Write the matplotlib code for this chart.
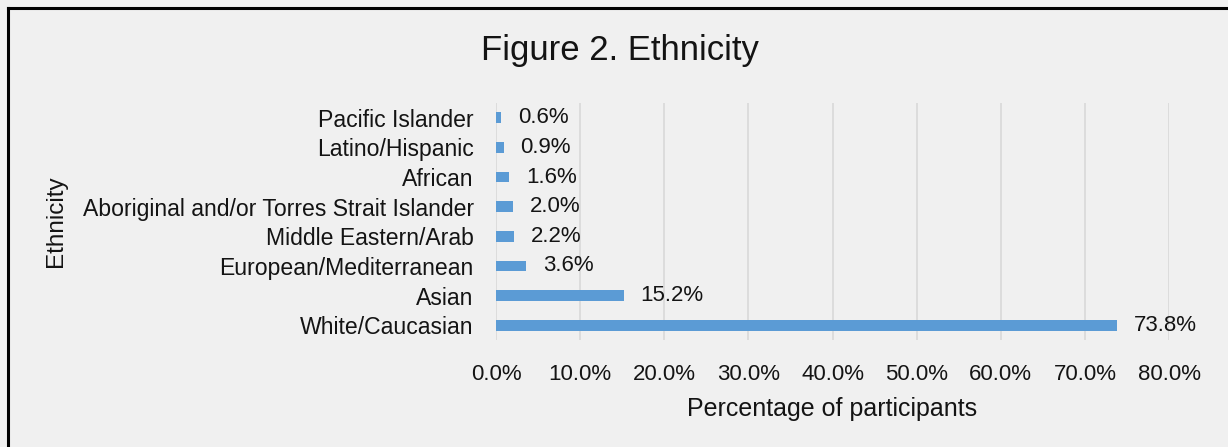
import matplotlib
matplotlib.use('Agg')
import matplotlib.pyplot as plt
from matplotlib.lines import Line2D
from matplotlib.ticker import FuncFormatter

# ethnicity breakdown, bottom to top
groups = ['White/Caucasian', 'Asian', 'European/Mediterranean',
          'Middle Eastern/Arab', 'Aboriginal and/or Torres Strait Islander',
          'African', 'Latino/Hispanic', 'Pacific Islander']
share = [73.8, 15.2, 3.6, 2.2, 2.0, 1.6, 0.9, 0.6]
xticks = [0, 10, 20, 30, 40, 50, 60, 70, 80]

plt.rcParams['font.family'] = ['Liberation Sans', 'DejaVu Sans']

bg = '#f0f0f0'
ink = '#141414'
fig = plt.figure(figsize=(12.28, 4.47), dpi=100, facecolor=bg)
ax = fig.add_axes([0.4039, 0.2394, 0.9520 - 0.4039, 0.7696 - 0.2394])
ax.set_facecolor(bg)

pos = list(range(len(groups)))
ax.barh(pos, share, height=0.36, color='#5b9bd5', zorder=3)
for y, v in zip(pos, share):
    ax.annotate('%.1f%%' % v, (v, y), xytext=(12, 0), textcoords='offset points',
                va='center', ha='left', fontsize=16, color=ink)

ax.set_xlim(0, 80)
ax.set_ylim(-0.5, len(groups) - 0.5)
ax.set_xticks(xticks)
ax.xaxis.set_major_formatter(FuncFormatter(lambda v, p: '%.1f%%' % v))
ax.set_yticks(pos)
ax.set_yticklabels(groups)
ax.tick_params(axis='both', length=0, colors=ink)
ax.tick_params(axis='x', pad=17, labelsize=16)
ax.tick_params(axis='y', pad=16, labelsize=16.6)
ax.grid(axis='x', color='#d9d9d9', linewidth=1.2, zorder=0)
for s in ax.spines.values():
    s.set_visible(False)

ax.set_xlabel('Percentage of participants', fontsize=18, labelpad=9, color=ink)
ax.set_ylabel('Ethnicity', fontsize=17.5, color=ink)
ax.yaxis.set_label_coords(-0.637, 0.5, transform=ax.transAxes)

fig.text(0.505, 0.888, 'Figure 2. Ethnicity', ha='center', va='center', fontsize=25, color=ink)

# frame edges along the top and left
fig.add_artist(Line2D([0.0065, 0.0065], [0, 0.982], transform=fig.transFigure, color='black', linewidth=2.2))
fig.add_artist(Line2D([0.0065, 1.0], [0.982, 0.982], transform=fig.transFigure, color='black', linewidth=2.2))

fig.savefig('out.png', dpi=100, facecolor=bg)
